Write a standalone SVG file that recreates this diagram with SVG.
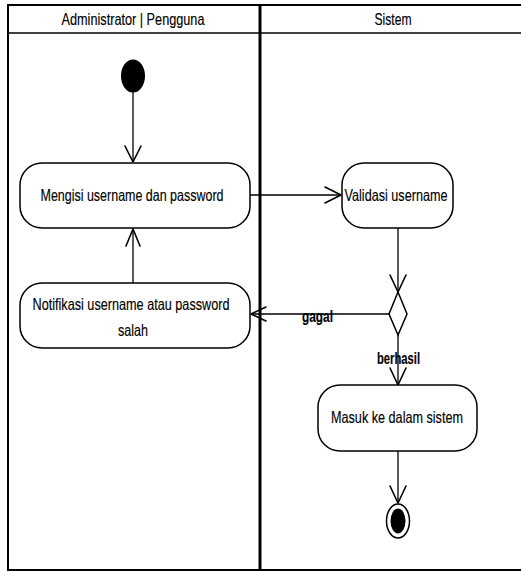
<svg xmlns="http://www.w3.org/2000/svg" width="521" height="572" viewBox="0 0 521 572">
  <style>
    .lane { fill: none; stroke: #000; stroke-width: 2; }
    .act { fill: #fff; stroke: #000; stroke-width: 1.5; }
    .flow { fill: none; stroke: #000; stroke-width: 1.3; }
    .head { fill: none; stroke: #000; stroke-width: 1.6; stroke-linecap: round; stroke-linejoin: round; }
    text { font-family: "Liberation Sans", Arial, sans-serif; font-size: 16.5px; fill: #000; stroke: #000; stroke-width: 0.15; }
    .guard { font-weight: bold; font-size: 16px; }
  </style>
  <rect width="521" height="572" fill="#fff"/>

  <!-- swimlanes -->
  <g id="lanes">
    <rect class="lane" x="8" y="5" width="515" height="565"/>
    <line x1="8" y1="33" x2="521" y2="33" stroke="#000" stroke-width="1.6"/>
    <line x1="260" y1="5" x2="260" y2="570" stroke="#000" stroke-width="3"/>
    <text x="133" y="25" text-anchor="middle" textLength="143" lengthAdjust="spacingAndGlyphs">Administrator | Pengguna</text>
    <text x="393" y="25" text-anchor="middle" textLength="37" lengthAdjust="spacingAndGlyphs">Sistem</text>
  </g>

  <!-- connectors -->
  <g id="connectors">
    <line class="flow" x1="133" y1="90" x2="133" y2="162"/>
    <polyline class="head" points="125,146 133,162 141,146"/>

    <line class="flow" x1="250" y1="195" x2="341" y2="195"/>
    <polyline class="head" points="325,187 341,195 325,203"/>

    <line class="flow" x1="398" y1="228" x2="398" y2="292"/>
    <polyline class="head" points="390,275 398,292 406,275"/>

    <line class="flow" x1="390" y1="314" x2="251" y2="314"/>
    <polyline class="head" points="266,307 251,314 266,321"/>
    <text class="guard" x="302" y="322" textLength="31" lengthAdjust="spacingAndGlyphs">gagal</text>

    <line class="flow" x1="398" y1="335" x2="398" y2="385"/>
    <polyline class="head" points="390,368 398,385 406,368"/>
    <text class="guard" x="377" y="364" textLength="43" lengthAdjust="spacingAndGlyphs">berhasil</text>

    <line class="flow" x1="133" y1="283" x2="133" y2="229"/>
    <polyline class="head" points="126,246 133,229 140,246"/>

    <line class="flow" x1="398" y1="451" x2="398" y2="503"/>
    <polyline class="head" points="390,486 398,503 406,486"/>
  </g>

  <!-- start node -->
  <g id="start">
    <ellipse cx="133" cy="76" rx="12" ry="16.5" fill="#000"/>
  </g>

  <g id="isi-login">
    <rect class="act" x="20" y="163" width="230" height="65" rx="22"/>
    <text x="132" y="201" text-anchor="middle" textLength="183" lengthAdjust="spacingAndGlyphs">Mengisi username dan password</text>
  </g>

  <g id="notifikasi">
    <rect class="act" x="20" y="283" width="230" height="65" rx="22"/>
    <text x="131" y="310" text-anchor="middle" textLength="197" lengthAdjust="spacingAndGlyphs">Notifikasi username atau password</text>
    <text x="133" y="336" text-anchor="middle" textLength="30" lengthAdjust="spacingAndGlyphs">salah</text>
  </g>

  <g id="validasi">
    <rect class="act" x="342" y="163" width="111" height="65" rx="22"/>
    <text x="396" y="201" text-anchor="middle" textLength="103" lengthAdjust="spacingAndGlyphs">Validasi username</text>
  </g>

  <g id="keputusan">
    <polygon class="act" points="398,292 407,314 398,335 389,314"/>
  </g>

  <g id="masuk">
    <rect class="act" x="318" y="385" width="159" height="66" rx="22"/>
    <text x="397" y="423" text-anchor="middle" textLength="132" lengthAdjust="spacingAndGlyphs">Masuk ke dalam sistem</text>
  </g>

  <!-- end node -->
  <g id="end">
    <ellipse cx="398" cy="521" rx="11.5" ry="17" fill="#fff" stroke="#000" stroke-width="1.5"/>
    <ellipse cx="398" cy="521" rx="7.5" ry="12.5" fill="#000"/>
  </g>
</svg>
